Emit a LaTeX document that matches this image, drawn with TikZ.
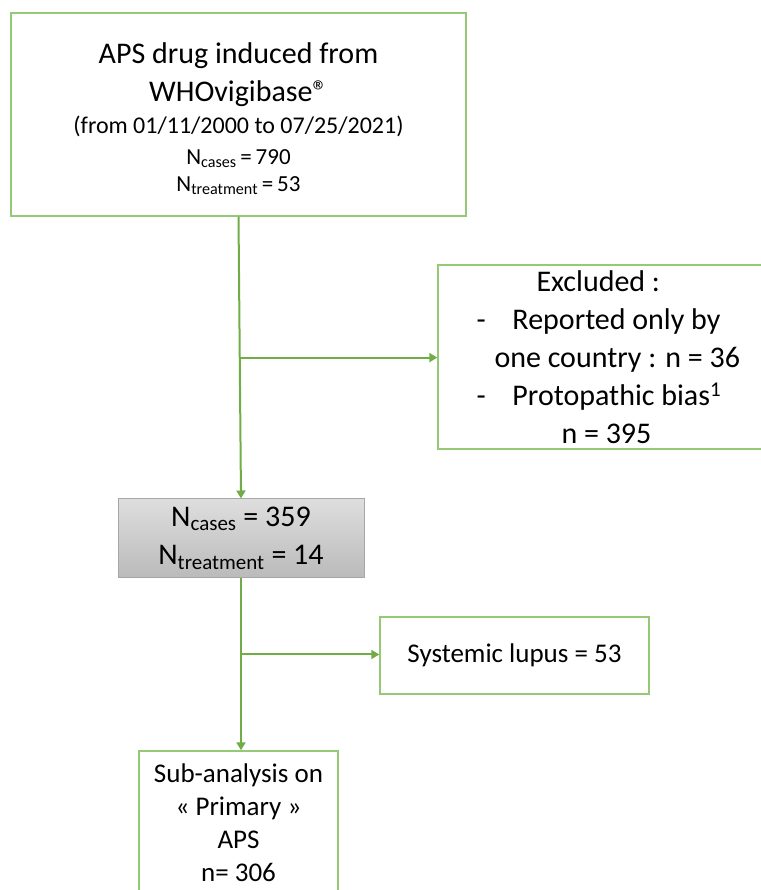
\documentclass[tikz,border=0pt]{standalone}
\usepackage{fontspec}
\setmainfont{Carlito}
\usetikzlibrary{arrows.meta,calc}
\definecolor{boxgreen}{RGB}{150,201,118}
\definecolor{linegreen}{RGB}{112,173,71}
\newcommand{\nsub}[1]{N\textsubscript{#1}}

\begin{document}
\begin{tikzpicture}[x=1pt, y=1pt,
	greenbox/.style={draw=boxgreen, line width=1.4pt, inner sep=0pt, align=center},
	graybox/.style={draw=black!35, line width=1pt, inner sep=0pt, align=center,
		top color=black!13, bottom color=black!27},
	flow/.style={draw=linegreen, line width=2pt, -{Triangle[length=8pt,width=9pt]}}]
		%%%%% START %%%%%
		
		\useasboundingbox (0, 0) rectangle (760, 890);
		
		\node[greenbox, minimum width=455pt, minimum height=203pt, font=\fontsize{30}{38}\selectfont] (src) at (238.5, 775.5)
			{\rule{0pt}{29pt}APS drug induced from\\
			 WHOvigibase\textregistered\\[-6pt]
			 \fontsize{24}{28}\selectfont (from 01/11/2000 to 07/25/2021)\\[-7pt]
			 \fontsize{23}{28}\selectfont \nsub{cases}\,=\,790\\[-11pt]
			 \fontsize{23}{28}\selectfont \nsub{treatment}\,=\,53};
		
		\node[greenbox, minimum width=330pt, minimum height=184pt] (excl) at (603, 533) {};
		\node[anchor=west, align=left, inner sep=0pt, font=\fontsize{30}{38}\selectfont] (excltext) at ($(excl.west)+(39, 0)$)
			{\hspace*{60pt}Excluded :\\
			 \makebox[36pt][l]{-}Reported only by\\
			 \hspace*{18pt}one country : n = 36\\
			 \makebox[36pt][l]{-}Protopathic bias\textsuperscript{1}\\
			 \hspace*{85pt}n = 395};
		
		\node[graybox, minimum width=246pt, minimum height=79pt, font=\fontsize{30}{38}\selectfont] (pool) at (241, 351.5)
			{\nsub{cases} = 359\\ \nsub{treatment} = 14};
		
		\node[greenbox, minimum width=269pt, minimum height=77pt, font=\fontsize{27}{33}\selectfont] (lupus) at (514.5, 234.5)
			{Systemic lupus = 53};
		
		\node[greenbox, minimum width=199pt, minimum height=143pt, font=\fontsize{27}{33}\selectfont] (primary) at (238.5, 67.5)
			{Sub-analysis on\\ « Primary »\\ APS\\ n= 306};
		
		% connectors
		\draw[flow] (src.south) -- (pool.north);
		\coordinate (split1) at ($(src.south)!0.5!(pool.north)$);
		\draw[flow] (split1) -- (split1 -| excl.west);
		
		\draw[flow] (pool.south) -- (pool.south |- primary.north);
		\coordinate (split2) at ($(pool.south)+(0, -76)$);
		\draw[flow] (split2) -- (split2 -| lupus.west);
		
		%%%%% END %%%%%
	\end{tikzpicture}
\end{document}
